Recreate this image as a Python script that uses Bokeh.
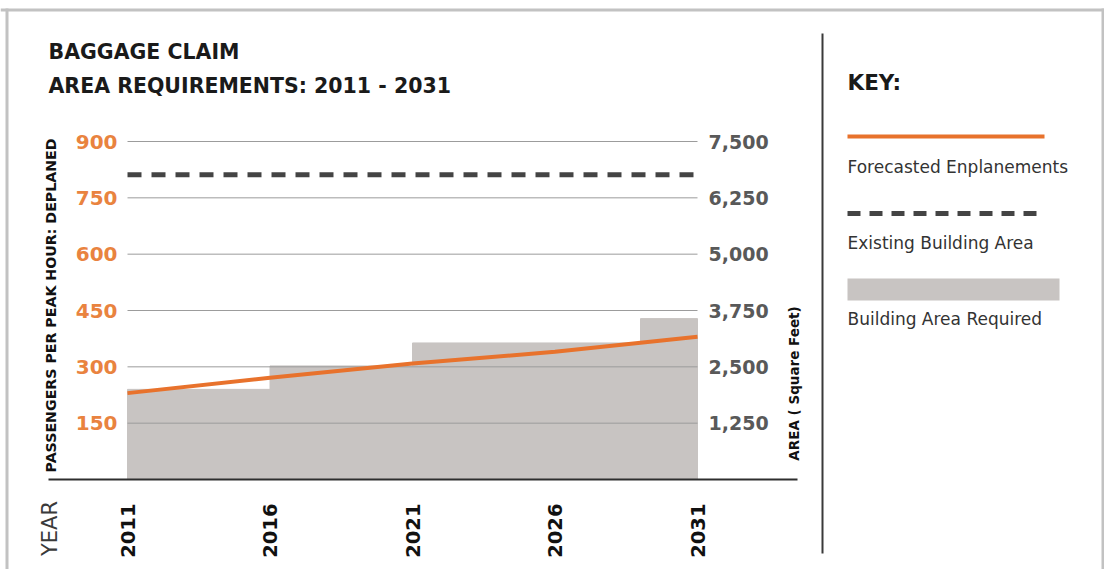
import math
from bokeh.plotting import figure
from bokeh.models import (Range1d, LinearAxis, FixedTicker, NumeralTickFormatter, Label)
from bokeh.embed import file_html
from bokeh.resources import INLINE

# ---------------- data ----------------
years = [2011, 2016, 2021, 2026, 2031]
forecast_years = [2011, 2016, 2021, 2026, 2029, 2031]
forecast_pax = [230, 271, 309, 340, 364, 380]          # passengers per peak hour
req_start = [2011, 2016, 2021, 2029]
req_end = [2016, 2021, 2029, 2031]
req_area = [2000, 2520, 3030, 3570]                    # square feet required
existing_years = [2011, 2031]
existing_area = [6760, 6760]                           # existing building area (sq ft)
pax_ticks = [150, 300, 450, 600, 750, 900]
area_ticks = [1250, 2500, 3750, 5000, 6250, 7500]

# ---------------- layout ----------------
W, H = 1104, 569
PX_PER_YEAR = 28.5
PX_PER_PAX = 338.0 / 900.0
AREA_PER_PAX = 7500 / 900.0

BOLD = "DejaVu Sans"
ORANGE_LINE = "#E8722C"
ORANGE_TEXT = "#E9833F"
GRAY_FILL = "#C8C4C2"


def dx(X):  # canvas px -> data x (years)
    return 2011 + (X - 127) / PX_PER_YEAR


def dy(Y):  # canvas px -> data y (passengers)
    return (479 - Y) / PX_PER_PAX


p = figure(width=W, height=H, output_backend="svg", toolbar_location=None,
           x_range=Range1d(dx(0), dx(W)), y_range=Range1d(dy(H), dy(0)),
           x_axis_type=None, y_axis_type=None, min_border=0,
           background_fill_color="white", border_fill_color="white",
           outline_line_color=None)
p.extra_y_ranges = {"area": Range1d(dy(H) * AREA_PER_PAX, dy(0) * AREA_PER_PAX)}
p.xgrid.visible = False
p.ygrid.visible = False

# building area required (step area)
p.quad(left=req_start, right=req_end, bottom=0, top=req_area,
       y_range_name="area", fill_color=GRAY_FILL, line_color=GRAY_FILL,
       line_width=1)

# grid lines drawn over the area
p.segment(x0=[years[0]] * len(pax_ticks), x1=[years[-1]] * len(pax_ticks),
          y0=pax_ticks, y1=pax_ticks, line_color="#9c9c9c", line_width=1)

# existing building area
p.line(existing_years, existing_area, y_range_name="area", line_color="#444444",
       line_width=5, line_dash="14 10", line_cap="butt")

# forecasted enplanements
p.line(forecast_years, forecast_pax, line_color=ORANGE_LINE, line_width=4)


# ---------------- axes ----------------
def clean(ax):
    ax.axis_line_color = None
    ax.major_tick_line_color = None
    ax.minor_tick_line_color = None
    ax.major_tick_out = 0
    ax.major_tick_in = 0
    ax.minor_tick_out = 0
    ax.minor_tick_in = 0
    ax.major_label_text_font = BOLD
    ax.major_label_text_font_style = "bold"


la = LinearAxis(ticker=FixedTicker(ticks=pax_ticks), fixed_location=years[0])
clean(la)
la.major_label_standoff = 10
la.major_label_text_color = ORANGE_TEXT
la.major_label_text_font_size = "20px"
p.add_layout(la, "left")

ra = LinearAxis(y_range_name="area", ticker=FixedTicker(ticks=area_ticks),
                formatter=NumeralTickFormatter(format="0,0"),
                fixed_location=years[-1])
clean(ra)
ra.major_label_standoff = 11
ra.major_label_text_color = "#595959"
ra.major_label_text_font_size = "19px"
p.add_layout(ra, "right")

ba = LinearAxis(ticker=FixedTicker(ticks=years), fixed_location=0)
clean(ba)
ba.major_label_orientation = math.pi / 2
ba.major_label_standoff = 24
ba.major_label_text_color = "#111111"
ba.major_label_text_font_size = "19.5px"
p.add_layout(ba, "below")


# ---------------- decorations ----------------
def seg(xa, ya, xb, yb, **kw):
    p.segment(x0=dx(xa), y0=dy(ya), x1=dx(xb), y1=dy(yb), **kw)


def text(x, y, s, size, style="normal", color="#1a1a1a", angle=0,
         align="left"):
    p.add_layout(Label(x=dx(x), y=dy(y), text=s, text_font=BOLD,
                       text_font_size=size, text_font_style=style,
                       text_color=color, angle=angle, text_align=align,
                       text_baseline="middle"))


# outer frame
seg(0, 9.5, W, 9.5, line_color="#c2c2c2", line_width=3)
seg(6.5, 8, 6.5, H, line_color="#c2c2c2", line_width=3)
seg(W - 1.5, 8, W - 1.5, H, line_color="#c2c2c2", line_width=3)

# chart baseline
seg(48, 479, 797, 479, line_color="#2e2e2e", line_width=2)

# separator
seg(822, 33, 822, 553, line_color="#3a3a3a", line_width=2)

# titles
text(48, 51, "BAGGAGE CLAIM", "20.5px", "bold")
text(48, 85, "AREA REQUIREMENTS: 2011 - 2031", "20.5px", "bold")

# axis titles
text(50, 300, "PASSENGERS  PER PEAK HOUR:  DEPLANED", "14.2px", "bold", "#111111",
     angle=math.pi / 2, align="center")
text(793, 383, "AREA ( Square Feet)", "13.5px", "bold", "#111111",
     angle=math.pi / 2, align="center")
text(49, 528, "YEAR", "21px", "normal", "#3a3a3a",
     angle=math.pi / 2, align="center")

# key
text(847, 82, "KEY:", "21.5px", "bold")
seg(847, 136, 1044, 136, line_color=ORANGE_LINE, line_width=4, line_cap="butt")
text(847, 166, "Forecasted Enplanements", "17px", "normal", "#333333")
seg(847, 213, 1044, 213, line_color="#444444", line_width=5, line_dash="13 9",
    line_cap="butt")
text(847, 242, "Existing Building Area", "17px", "normal", "#333333")
seg(847, 289, 1059, 289, line_color=GRAY_FILL, line_width=22, line_cap="butt")
text(847, 318, "Building Area Required", "17px", "normal", "#333333")

open("out.html", "w").write(file_html(p, INLINE))
